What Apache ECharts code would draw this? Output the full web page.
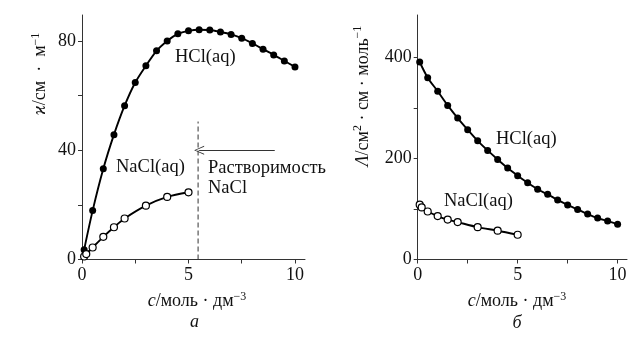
<!DOCTYPE html>
<html><head><meta charset="utf-8">
<script src="https://cdn.jsdelivr.net/npm/echarts@6/dist/echarts.min.js"></script>
<style>html,body{margin:0;padding:0;background:#fff}#c{width:643px;height:338px}</style>
</head><body><div id="c"></div>
<script>
// concentrations, mol/dm^3
const cHCl = [0.1,0.5,1,1.5,2,2.5,3,3.5,4,4.5,5,5.5,6,6.5,7,7.5,8,8.5,9,9.5,10];
const cNaCl = [0.1,0.2,0.5,1,1.5,2,3,4,5];
// conductivity kappa, S/m
const kappaHCl = [3.6,17.9,33.2,45.7,56.3,64.8,70.9,76.4,80.0,82.6,83.7,84.1,84.0,83.3,82.4,81.0,79.1,77.0,74.9,72.7,70.5];
const kappaNaCl = [1.1,2.0,4.4,8.3,11.8,15.0,19.7,22.9,24.6];
// molar conductivity Lambda, S cm^2/mol
const lambdaHCl = [391,360,333,305,280,257,235,216,198,181,166,152,139,129,118,108,99,90,82,76,70];
const lambdaNaCl = [108.5,103,95,86,79,74,64,57,49];
// ticks
const xTicks = [0,2.5,5,7.5,10];
const xTickLabels = [0,5,10];
const kTicks = [0,20,40,60,80];
const kTickLabels = [0,40,80];
const lTicks = [0,100,200,300,400];
const lTickLabels = [0,200,400];
// solubility of NaCl marker
const solubilityC = 5.45;
const solubilityLineTop = 50.5;
const arrowFromC = 9.05;
const arrowToC = 5.5;
const arrowK = 40;

const zip = (a,b)=>a.map((v,i)=>[v,b[i]]);
const FONT = '"Liberation Serif","DejaVu Serif",serif';
const INK = '#111';

const axisCommon = {
  axisLine:{show:true,onZero:false,lineStyle:{color:'#333',width:1}},
  axisTick:{show:true,inside:false,length:4,lineStyle:{color:'#333',width:1}},
  splitLine:{show:false},
};
function xAx(gi){
  return Object.assign({}, axisCommon, {type:'value',gridIndex:gi,min:0,max:10.47,
    axisTick:Object.assign({}, axisCommon.axisTick, {customValues:xTicks}),
    axisLabel:{customValues:xTickLabels,margin:7,fontFamily:FONT,fontSize:18,color:INK}});
}
function yAx(gi,max,ticks,labels){
  return Object.assign({}, axisCommon, {type:'value',gridIndex:gi,min:0,max:max,
    axisTick:Object.assign({}, axisCommon.axisTick, {customValues:ticks}),
    axisLabel:{customValues:labels,margin:6,fontFamily:FONT,fontSize:18,color:INK}});
}
function curve(name,xi,yi,data,filled){
  return {name,type:'line',xAxisIndex:xi,yAxisIndex:yi,data,smooth:0.3,
    symbol:'circle',symbolSize:7,
    itemStyle:{color:filled?'#000':'#fff',borderColor:'#000',borderWidth:filled?0:1.2},
    lineStyle:{color:'#000',width:1.9},z:filled?3:4,animation:false};
}
const RICH = {
  i:{font:'italic 18px '+FONT,fill:INK},
  sup:{font:'12px '+FONT,verticalAlign:'top',lineHeight:22},
  n:{font:'18px '+FONT,lineHeight:22}
};

const chart = echarts.init(document.getElementById('c'),null,{renderer:'canvas'});
const txt = (t,x,y,extra)=>Object.assign({type:'text',x,y,style:Object.assign({text:t,fill:INK,font:'18.5px '+FONT,align:'left',verticalAlign:'middle'},extra||{})});
const rt = (t,x,y,rot)=>({type:'text',x,y,rotation:rot||0,style:{text:t,font:'18px '+FONT,fill:INK,align:'center',verticalAlign:'middle',rich:RICH}});
chart.setOption({
  animation:false,
  grid:[
    {left:82,right:338,top:15,bottom:78.5},
    {left:417.7,right:16,top:15,bottom:78.5}
  ],
  xAxis:[xAx(0),xAx(1)],
  yAxis:[yAx(0,89.5,kTicks,kTickLabels),yAx(1,484,lTicks,lTickLabels)],
  series:[
    curve('HCl κ',0,0,zip(cHCl,kappaHCl),true),
    curve('NaCl κ',0,0,zip(cNaCl,kappaNaCl),false),
    curve('HCl Λ',1,1,zip(cHCl,lambdaHCl),true),
    curve('NaCl Λ',1,1,zip(cNaCl,lambdaNaCl),false),
    {type:'line',xAxisIndex:0,yAxisIndex:0,symbol:'none',silent:true,
     data:[[solubilityC,0],[solubilityC,solubilityLineTop]],
     lineStyle:{color:'#333',width:1,type:[5,3]},z:2},
    {type:'line',xAxisIndex:0,yAxisIndex:0,symbol:'none',silent:true,data:[],
     markLine:{silent:true,animation:false,symbol:['none','path://M0,10 L5,0 L10,10 L9,10 L5,1.6 L1,10 Z'],
       symbolSize:[9,10],label:{show:false},lineStyle:{color:'#333',width:1,type:'solid'},
       data:[[{coord:[arrowFromC,arrowK]},{coord:[arrowToC,arrowK]}]]}}
  ],
  graphic:[
    txt('HCl(aq)',175,57),
    txt('NaCl(aq)',116,167.5),
    txt('Растворимость',208,168),
    txt('NaCl',208,188),
    txt('HCl(aq)',496,139),
    txt('NaCl(aq)',444,201),
    rt('{i|ϰ}{n|/см  ·  м}{sup|−1}',40.7,74,Math.PI/2),
    rt('{i|Λ}{n|/см}{sup|2}{n| · см · моль}{sup|−1}',363,96,Math.PI/2),
    rt('{i|c}{n|/моль · дм}{sup|−3}',197,301.5),
    rt('{i|c}{n|/моль · дм}{sup|−3}',517,301.5),
    {type:'text',x:194.5,y:322.5,style:{text:'a',font:'italic 18px '+FONT,fill:INK,align:'center',verticalAlign:'middle'}},
    {type:'text',x:517,y:323,style:{text:'б',font:'italic 18px '+FONT,fill:INK,align:'center',verticalAlign:'middle'}}
  ]
});
</script></body></html>
